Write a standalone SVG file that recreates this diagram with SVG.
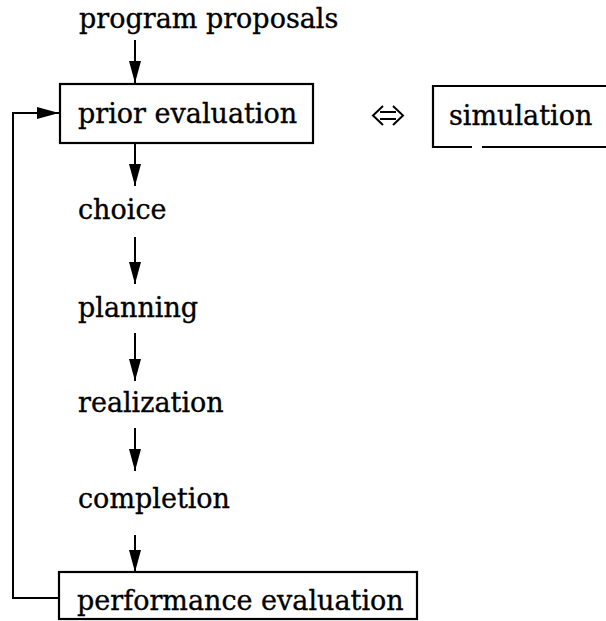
<svg xmlns="http://www.w3.org/2000/svg" width="606" height="621" viewBox="0 0 606 621">
<defs>
<marker id="ah" markerUnits="userSpaceOnUse" markerWidth="22" markerHeight="12" refX="22" refY="6" viewBox="0 0 22 12" orient="auto">
<path d="M0,0 L22,6 L0,12 Z" fill="#000"/>
</marker>
</defs>
<style>
text{font-family:"DejaVu Serif","Liberation Serif",serif;font-size:27px;fill:#000;stroke:#000;stroke-width:0.35}
.box{fill:#fff;stroke:#000;stroke-width:2.2}
.c{stroke:#000;stroke-width:2;fill:none}
</style>
<rect width="606" height="621" fill="#fff"/>
<g id="connectors">
<line class="c" x1="135" y1="40" x2="135" y2="83" marker-end="url(#ah)"/>
<line class="c" x1="135" y1="143" x2="135" y2="186" marker-end="url(#ah)"/>
<line class="c" x1="135" y1="237" x2="135" y2="284" marker-end="url(#ah)"/>
<line class="c" x1="135" y1="333" x2="135" y2="381" marker-end="url(#ah)"/>
<line class="c" x1="135" y1="428" x2="135" y2="471" marker-end="url(#ah)"/>
<line class="c" x1="135" y1="535" x2="135" y2="572" marker-end="url(#ah)"/>
<polyline class="c" points="58,598 13,598 13,113 59,113" marker-end="url(#ah)"/>
<path class="c" d="M380,112 L396,112 M380,119 L396,119 M383,106 L373,115.5 L383,125 M393,106 L403,115.5 L393,125"/>
</g>
<g id="program-proposals"><text x="79" y="28">program proposals</text></g>
<g id="prior-evaluation"><rect class="box" x="60" y="84" width="253" height="59"/><text x="78" y="123">prior evaluation</text></g>
<g id="simulation"><path class="box" d="M608,86 L433,86 L433,147 L472,147 M482,147 L608,147"/><text x="449" y="125">simulation</text></g>
<g id="choice"><text x="78" y="219">choice</text></g>
<g id="planning"><text x="78" y="317">planning</text></g>
<g id="realization"><text x="78" y="412">realization</text></g>
<g id="completion"><text x="78" y="508">completion</text></g>
<g id="performance-evaluation"><rect class="box" x="59" y="572" width="358" height="47"/><text x="77" y="610">performance evaluation</text></g>
</svg>
